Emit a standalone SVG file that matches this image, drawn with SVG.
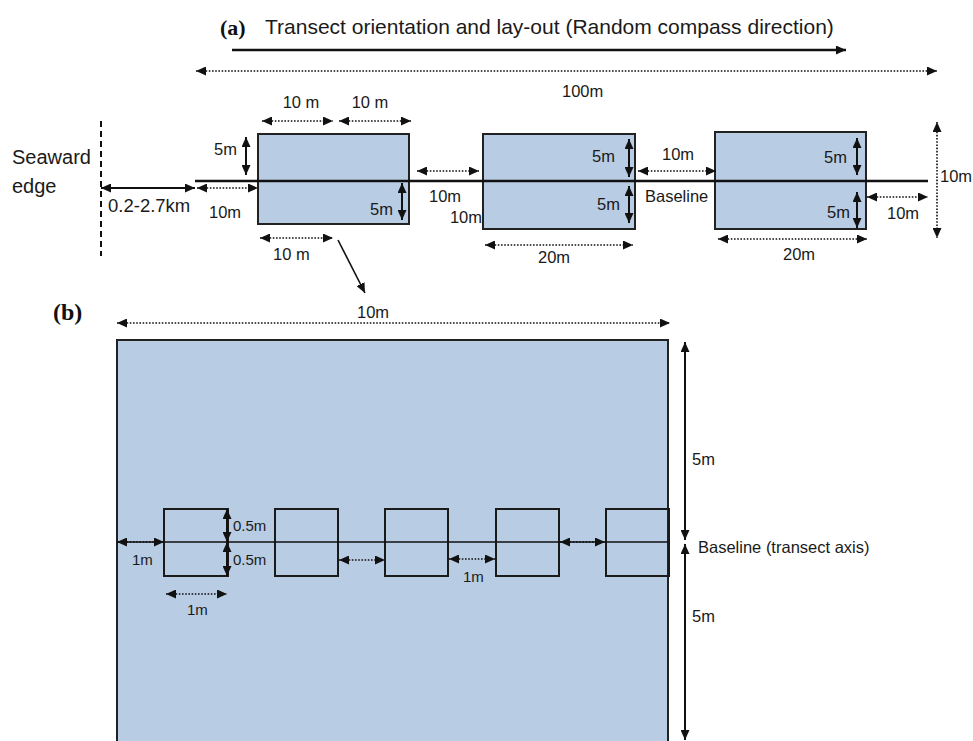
<svg xmlns="http://www.w3.org/2000/svg" width="973" height="741" viewBox="0 0 973 741">
<defs>
<marker id="ah" markerUnits="userSpaceOnUse" markerWidth="10" markerHeight="9" refX="10" refY="4.5" orient="auto-start-reverse" viewBox="0 0 10 9">
<path d="M0,0 L10,4.5 L0,9 z" fill="#111"/>
</marker>
<style>
.t{font-family:"Liberation Sans",Arial,sans-serif;font-size:16.5px;fill:#1a1a1a}
.s{font-size:15px}
.big{font-size:20px}
.h{font-family:"Liberation Serif","Times New Roman",serif;font-weight:bold;fill:#111}
.box{fill:#b8cce4;stroke:#222;stroke-width:2}
.sq{fill:none;stroke:#1a1a1a;stroke-width:2}
.sol{stroke:#111;stroke-width:2;fill:none}
.dot{stroke:#111;stroke-width:1.6;stroke-dasharray:1.6 1.6;fill:none}
.da{marker-start:url(#ah);marker-end:url(#ah)}
.ea{marker-end:url(#ah)}
</style>
</defs>
<rect width="973" height="741" fill="#fff"/>

<!-- Panel (a) -->
<text class="h" x="220" y="35" font-size="22">(a)</text>
<text class="t" x="265" y="34" font-size="21" style="font-size:21px">Transect orientation and lay-out (Random compass direction)</text>

<g id="box1"><rect class="box" x="258" y="134" width="151" height="90"/></g>
<g id="box2"><rect class="box" x="483" y="134" width="152" height="95"/></g>
<g id="box3"><rect class="box" x="715" y="132" width="151" height="97"/></g>

<!-- Panel (b) -->
<text class="h" x="53" y="320" font-size="24">(b)</text>
<g id="plot"><rect class="box" x="117" y="340" width="551" height="410"/></g>
<g id="q1"><rect class="sq" x="164" y="509" width="64" height="67"/></g>
<g id="q2"><rect class="sq" x="275" y="509" width="63" height="67"/></g>
<g id="q3"><rect class="sq" x="385" y="509" width="63" height="67"/></g>
<g id="q4"><rect class="sq" x="496" y="509" width="63" height="67"/></g>
<g id="q5"><rect class="sq" x="606" y="509" width="63" height="67"/></g>

<g id="connectors">
<!-- panel a -->
<line class="sol ea" x1="232" y1="50" x2="846" y2="50" style="stroke-width:2.5"/>
<line class="dot da" x1="196" y1="71" x2="937" y2="71"/>
<line class="sol" x1="101" y1="121" x2="101" y2="256" style="stroke-dasharray:6 4"/>
<line class="sol" x1="195" y1="181" x2="928" y2="181" style="stroke-width:2.5"/>
<line class="dot da" x1="262" y1="121" x2="333" y2="121"/>
<line class="dot da" x1="339" y1="121" x2="411" y2="121"/>
<line class="sol da" x1="246" y1="137" x2="246" y2="175"/>
<line class="sol da" x1="101" y1="188" x2="195" y2="188"/>
<line class="dot da" x1="197" y1="188" x2="258" y2="188"/>
<line class="sol da" x1="402" y1="183" x2="402" y2="220"/>
<line class="dot da" x1="260" y1="238" x2="333" y2="238"/>
<line class="sol ea" x1="338" y1="240" x2="365" y2="293" style="stroke-width:1.6"/>
<line class="dot da" x1="417" y1="171" x2="479" y2="171"/>
<line class="sol da" x1="629" y1="139" x2="629" y2="177"/>
<line class="sol da" x1="629" y1="186" x2="629" y2="223"/>
<line class="dot da" x1="485" y1="245" x2="633" y2="245"/>
<line class="dot da" x1="638" y1="171" x2="716" y2="171"/>
<line class="sol da" x1="857" y1="138" x2="857" y2="175"/>
<line class="sol da" x1="857" y1="192" x2="857" y2="228"/>
<line class="dot da" x1="867" y1="197" x2="928" y2="197"/>
<line class="dot da" x1="718" y1="239" x2="867" y2="239"/>
<line class="dot da" x1="937" y1="122" x2="937" y2="238"/>
<!-- panel b -->
<line class="dot da" x1="117" y1="323" x2="670" y2="323"/>
<line class="sol" x1="117" y1="542" x2="668" y2="542" style="stroke-width:1.6"/>
<line class="sol da" x1="685" y1="342" x2="685" y2="540"/>
<line class="sol da" x1="685" y1="544" x2="685" y2="740"/>
<line class="dot da" x1="117" y1="542" x2="164" y2="542"/>
<line class="sol da" x1="227" y1="509" x2="227" y2="542"/>
<line class="sol da" x1="227" y1="542" x2="227" y2="576"/>
<line class="dot da" x1="166" y1="594" x2="227" y2="594"/>
<line class="dot da" x1="339" y1="560" x2="385" y2="560"/>
<line class="dot da" x1="449" y1="559" x2="495" y2="559"/>
<line class="dot da" x1="560" y1="542" x2="605" y2="542"/>
</g>

<g id="labels">
<text class="t" x="562" y="97">100m</text>
<text class="t big" x="12" y="164">Seaward</text>
<text class="t big" x="12" y="193">edge</text>
<text class="t" x="108" y="212" style="font-size:18.5px">0.2-2.7km</text>
<text class="t" x="209" y="218">10m</text>
<text class="t" x="214" y="155">5m</text>
<text class="t" x="301" y="108" text-anchor="middle">10 m</text>
<text class="t" x="370" y="108" text-anchor="middle">10 m</text>
<text class="t" x="393" y="215" text-anchor="end">5m</text>
<text class="t" x="273" y="260">10 m</text>
<text class="t" x="429" y="202">10m</text>
<text class="t" x="482" y="223" text-anchor="end">10m</text>
<text class="t" x="592" y="162">5m</text>
<text class="t" x="597" y="210">5m</text>
<text class="t" x="538" y="263">20m</text>
<text class="t" x="662" y="160">10m</text>
<text class="t" x="645" y="202">Baseline</text>
<text class="t" x="824" y="163">5m</text>
<text class="t" x="827" y="218">5m</text>
<text class="t" x="887" y="219">10m</text>
<text class="t" x="783" y="260">20m</text>
<text class="t" x="940" y="182">10m</text>

<text class="t" x="357" y="318">10m</text>
<text class="t s" x="233" y="531">0.5m</text>
<text class="t s" x="233" y="565">0.5m</text>
<text class="t s" x="132" y="565">1m</text>
<text class="t s" x="187" y="615">1m</text>
<text class="t s" x="463" y="582">1m</text>
<text class="t" x="692" y="465">5m</text>
<text class="t" x="692" y="622">5m</text>
<text class="t" x="698" y="553">Baseline (transect axis)</text>
</g>
</svg>
